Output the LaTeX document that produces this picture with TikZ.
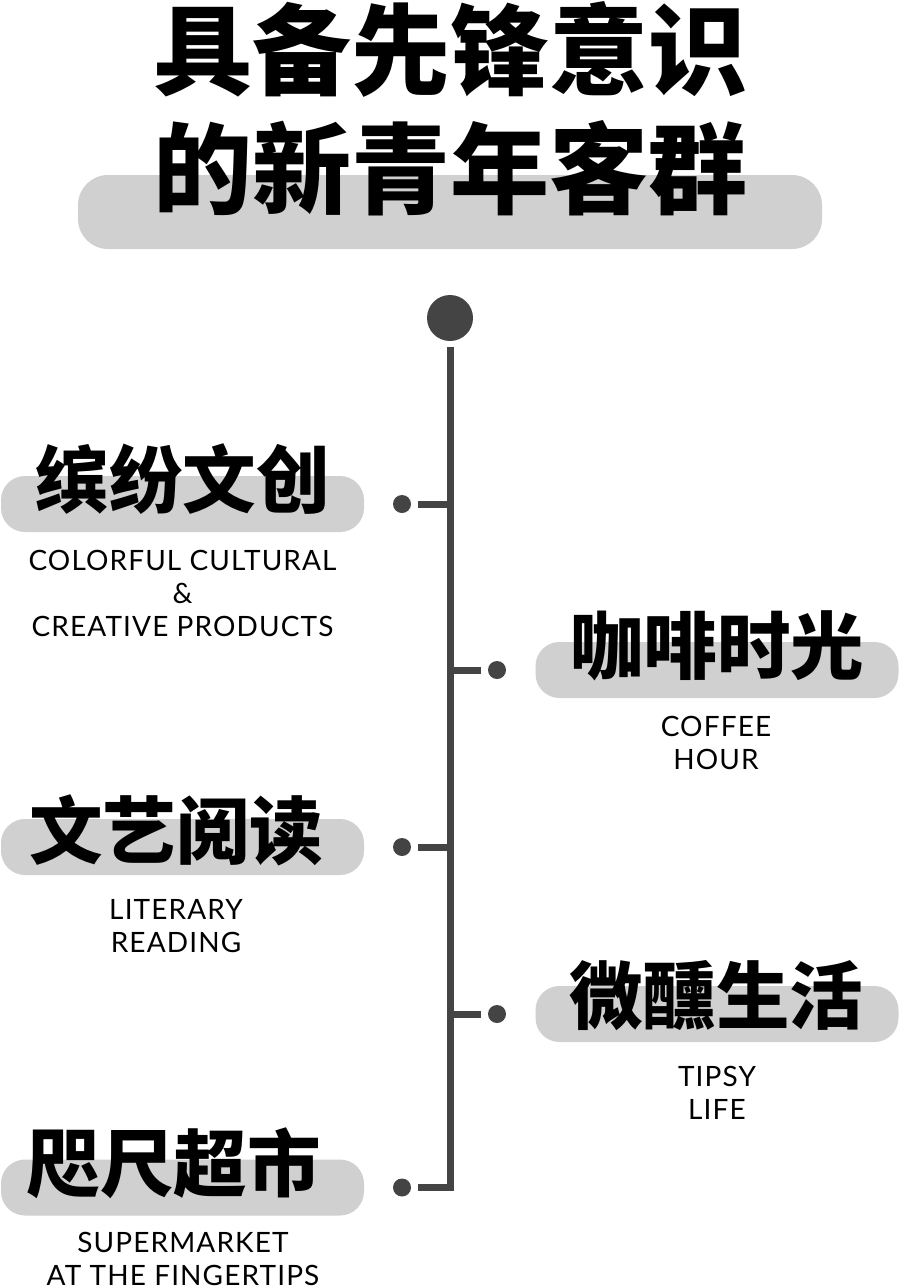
\documentclass[tikz,border=0pt]{standalone}
\usepackage{fontspec}
\usepackage{xcolor}
\usetikzlibrary{calc,positioning}
\setmainfont{Lato}[LetterSpace=4]
\newfontfamily\cjk{Noto Sans CJK SC}[BoldFont={Noto Sans CJK SC Black}]
\definecolor{pillgrey}{RGB}{208,208,208}
\definecolor{spinegrey}{RGB}{68,68,68}
\tikzset{
  pill/.style={fill=pillgrey, rounded corners=24pt, minimum width=363pt, minimum height=56pt, inner sep=0pt},
  headline/.style={font=\cjk\bfseries\fontsize{73.5}{74}\selectfont, inner sep=0pt},
  subline/.style={font=\fontsize{28}{33}\selectfont, align=center, inner sep=0pt, text=black},
  bigline/.style={font=\cjk\bfseries\fontsize{99}{119}\selectfont, align=center, inner sep=0pt},
  dotnode/.style={circle, fill=spinegrey, minimum size=18pt, inner sep=0pt},
  branch/.style={draw=spinegrey, line width=7pt}
}
% #1=name, #2=pill x, #3=y, #4=dot x, #5=subline x, #6=subline y, #7=subline text
\newcommand{\DrawBranch}[7]{%
  \node[pill] (#1pill) at (#2,#3) {};
  \node[dotnode] (#1dot) at (#4,#3) {};
  \node[subline] (#1sub) at (#5,#6) {#7};
  \draw[branch, shorten <=16pt] (#1dot.center) -- (#1dot -| spinetop);
}
\begin{document}
\begin{tikzpicture}[x=1pt,y=-1pt]
  \useasboundingbox (0,0) rectangle (900,1288);
  % Title bar and title
  \node[fill=pillgrey, rounded corners=30pt, minimum width=744pt, minimum height=74pt, inner sep=0pt] (titlepill) at (450,212) {};
  \node[bigline] (title) at (450,108.5) {具备先锋意识\\的新青年客群};
  % Spine
  \node[circle, fill=spinegrey, minimum size=46pt, inner sep=0pt] (topdot) at (450,318) {};
  \coordinate (spinetop) at (450,347);
  \coordinate (spineend) at (450,1191);
  \draw[branch] (spinetop) -- (spineend);
  % Left and right branches
  \DrawBranch{colorful}{182.5}{504}{402}{182.5}{593}{COLORFUL CULTURAL\\\&\\CREATIVE PRODUCTS}
  \DrawBranch{coffee}{717}{670}{497}{716}{743}{COFFEE\\HOUR}
  \DrawBranch{reading}{182.5}{847}{402}{176}{926}{LITERARY\\READING}
  \DrawBranch{tipsy}{717}{1014}{497}{717}{1093}{TIPSY\\LIFE}
  \DrawBranch{market}{182.5}{1187.5}{402}{183}{1258.5}{SUPERMARKET\\AT THE FINGERTIPS}
  % Headlines on top of the pills
  \node[headline] (colorfulhead) at (182.5,479) {缤纷文创};
  \node[headline] (coffeehead) at (717,646) {咖啡时光};
  \node[headline] (readinghead) at (176,830) {文艺阅读};
  \node[headline] (tipsyhead) at (716,996) {微醺生活};
  \node[headline] (markethead) at (174,1163) {咫尺超市};
\end{tikzpicture}
\end{document}
